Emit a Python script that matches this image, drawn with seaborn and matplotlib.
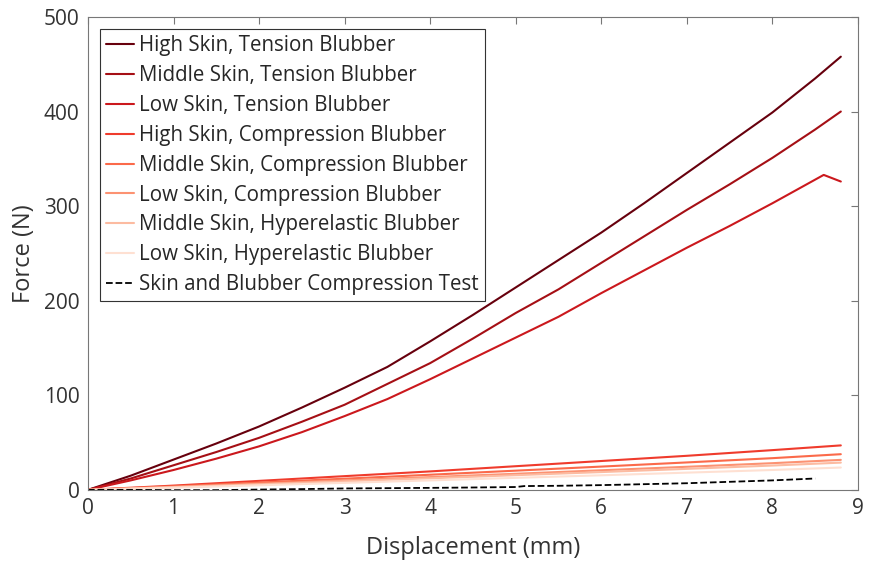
import numpy as np
import pandas as pd
import matplotlib
matplotlib.use("Agg")
import matplotlib.pyplot as plt
import seaborn as sns

# tension-blubber curves
x_tension = [0, 0.5, 1, 1.5, 2, 2.5, 3, 3.5, 4, 4.5, 5, 5.5, 6, 6.5, 7, 7.5, 8, 8.5, 8.8]
high_tension = [0, 15, 32, 49, 67, 87, 108, 130, 157, 185, 214, 243, 272, 303, 335, 367, 399, 435, 458]
middle_tension = [0, 12, 26, 40, 55, 72, 90, 112, 134, 160, 187, 212, 240, 268, 296, 323, 351, 381, 400]

x_low_tension = [0, 0.5, 1, 1.5, 2, 2.5, 3, 3.5, 4, 4.5, 5, 5.5, 6, 6.5, 7, 7.5, 8, 8.3, 8.6, 8.8]
low_tension = [0, 10, 21, 33, 46, 61, 78, 96, 117, 139, 161, 183, 208, 232, 256, 279, 303, 318, 333, 326]

# compression / hyperelastic blubber curves
x_soft = [0, 1, 2, 3, 4, 5, 6, 7, 8, 8.8]
high_comp = [0, 4.5, 9.5, 14.5, 19.5, 25, 30.5, 36, 42, 47]
middle_comp = [0, 3.7, 7.7, 11.8, 16, 20.3, 24.6, 29, 33.5, 37.7]
low_comp = [0, 3.1, 6.5, 10, 13.5, 17, 20.7, 24.4, 28.2, 31.7]
middle_hyper = [0, 2.8, 5.8, 9, 12.2, 15.5, 18.8, 22.2, 25.7, 28.8]
low_hyper = [0, 2.3, 4.8, 7.4, 10, 12.7, 15.4, 18.2, 21, 23.6]

# experimental compression test
x_test = [0, 0.5, 1, 1.5, 2, 2.5, 3, 3.5, 4, 4.5, 5, 5.1, 5.5, 6, 6.5, 7, 7.5, 8, 8.5]
test = [0, 0, -0.3, -0.3, 0.3, 0.8, 1.5, 1.8, 2.1, 2.5, 3, 4, 4.3, 5, 6, 7, 8.5, 10, 12]

labels = [
    "High Skin, Tension Blubber",
    "Middle Skin, Tension Blubber",
    "Low Skin, Tension Blubber",
    "High Skin, Compression Blubber",
    "Middle Skin, Compression Blubber",
    "Low Skin, Compression Blubber",
    "Middle Skin, Hyperelastic Blubber",
    "Low Skin, Hyperelastic Blubber",
]
colors = ["#67000d", "#a50f15", "#cb181d", "#ef3b2c", "#fb6a4a", "#fc9272", "#fcbba1", "#fee0d2"]

sns.set_theme(style="white")
plt.rcParams["font.family"] = ["Open Sans", "DejaVu Sans"]

fig, ax = plt.subplots(figsize=(8.71, 5.65), dpi=100)
fig.subplots_adjust(left=0.101, right=0.985, top=0.97, bottom=0.133)

series = [
    (x_tension, high_tension), (x_tension, middle_tension), (x_low_tension, low_tension),
    (x_soft, high_comp), (x_soft, middle_comp), (x_soft, low_comp),
    (x_soft, middle_hyper), (x_soft, low_hyper),
]
for (xs, ys), lab, col in zip(series, labels, colors):
    sns.lineplot(x=xs, y=ys, ax=ax, color=col, label=lab, linewidth=1.5)

sns.lineplot(x=x_test, y=test, ax=ax, color="black", linestyle="--", linewidth=1.3,
             label="Skin and Blubber Compression Test")

ax.set_xlim(0, 9)
ax.set_ylim(0, 500)
ax.set_xticks(range(0, 10))
ax.set_yticks(range(0, 501, 100))
ax.set_xlabel("Displacement (mm)", fontsize=17, color="#333333", labelpad=12)
ax.set_ylabel("Force (N)", fontsize=17, color="#333333", labelpad=6)
ax.tick_params(direction="in", top=True, right=True, length=5, width=0.8,
               color="#777777", labelsize=15, labelcolor="#333333", pad=6)
for s in ax.spines.values():
    s.set_color("#777777")
    s.set_linewidth(0.8)

leg = ax.legend(loc="upper left", fontsize=14.8, handlelength=1.35, handletextpad=0.25,
                borderaxespad=0.6, labelspacing=0.43, fancybox=False, framealpha=1,
                borderpad=0.3)
leg.get_frame().set_edgecolor("#333333")
leg.get_frame().set_linewidth(0.8)
for t in leg.get_texts():
    t.set_color("#262626")

fig.savefig("out.png", dpi=100)
